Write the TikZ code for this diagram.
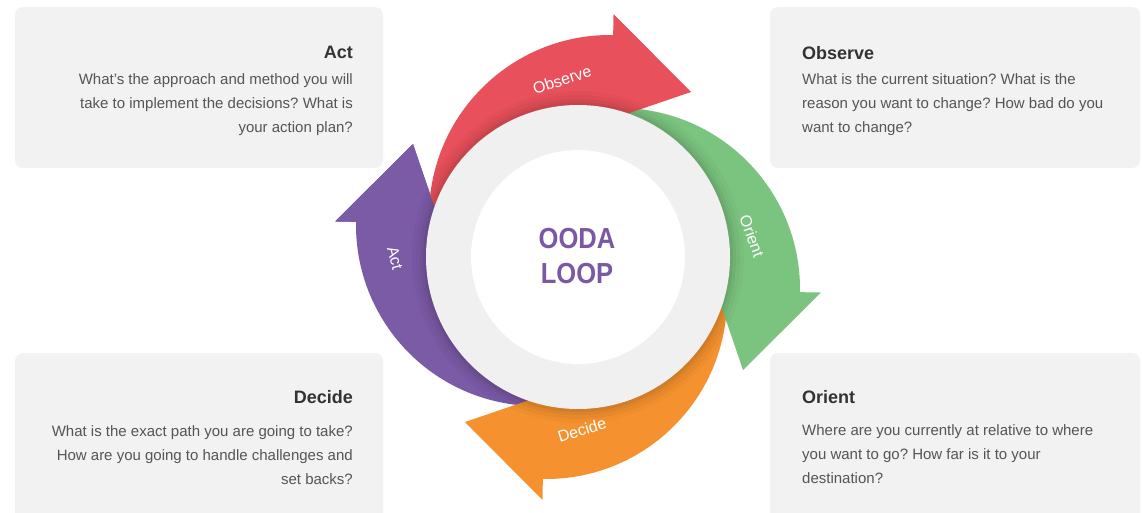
\documentclass[tikz,border=0pt]{standalone}
\usepackage{fontspec}
\setmainfont{Liberation Sans}
\newfontfamily\oodafont[FakeStretch=0.88]{Liberation Sans}
\frenchspacing
\definecolor{redA}{HTML}{E8505B}
\definecolor{greenA}{HTML}{7BC47F}
\definecolor{orangeA}{HTML}{F5922F}
\definecolor{purpleA}{HTML}{7B5AA6}
\definecolor{ringC}{HTML}{F0F0F0}
\definecolor{boxC}{HTML}{F2F2F2}
\definecolor{titleC}{HTML}{333333}
\definecolor{bodyC}{HTML}{555555}
\definecolor{oodaC}{HTML}{7A58A3}
\tikzset{
  infobox/.style={fill=boxC, rounded corners=8pt},
  titletext/.style={inner sep=0pt, text=titleC, font=\fontsize{18}{22}\selectfont\bfseries},
  bodytext/.style={inner sep=0pt, text=bodyC, font=\fontsize{15}{18}\selectfont},
  arrowlabel/.style={inner sep=0pt, text=white, font=\fontsize{16}{18}\selectfont},
  oodatext/.style={inner sep=0pt, text=oodaC, font=\fontsize{29}{32}\oodafont\bfseries},
}
\begin{document}
\begin{tikzpicture}[x=1pt,y=-1pt]
\useasboundingbox (0,0) rectangle (1142,513);
\clip (0,0) rectangle (1142,513);
\fill[white] (0,0) rectangle (1142,513);

% info boxes
\path[infobox] (15,7) rectangle (383,168);
\path[infobox] (770,7) rectangle (1140,168);
\path[infobox] (15,353) rectangle (383,530);
\path[infobox] (770,353) rectangle (1140,530);

% Act box text
\node[titletext, anchor=base east] (actT) at (353,59) {Act};
\node[bodytext, anchor=base east] (actB1) at (353,85) {What’s the approach and method you will};
\node[bodytext, anchor=base east] (actB2) at (353,109) {take to implement the decisions? What is};
\node[bodytext, anchor=base east] (actB3) at (353,133) {your action plan?};

% Observe box text
\node[titletext, anchor=base west] (obsT) at (802,60) {Observe};
\node[bodytext, anchor=base west] (obsB1) at (802,85) {What is the current situation? What is the};
\node[bodytext, anchor=base west] (obsB2) at (802,109) {reason you want to change? How bad do you};
\node[bodytext, anchor=base west] (obsB3) at (802,133) {want to change?};

% Decide box text
\node[titletext, anchor=base east] (decT) at (353,403) {Decide};
\node[bodytext, anchor=base east] (decB1) at (353,436) {What is the exact path you are going to take?};
\node[bodytext, anchor=base east] (decB2) at (353,460) {How are you going to handle challenges and};
\node[bodytext, anchor=base east] (decB3) at (353,484) {set backs?};

% Orient box text
\node[titletext, anchor=base west] (oriT) at (802,403) {Orient};
\node[bodytext, anchor=base west] (oriB1) at (802,435) {Where are you currently at relative to where};
\node[bodytext, anchor=base west] (oriB2) at (802,459) {you want to go? How far is it to your};
\node[bodytext, anchor=base west] (oriB3) at (802,483) {destination?};

% cycle arrows (local coordinates: y up, origin at the loop centre)
\begin{scope}[shift={(578,257)}, yscale=-1]
  \foreach \ang/\col in {270/purpleA,180/orangeA,90/greenA,0/redA}{
    \fill[\col, rotate=\ang]
      ([shift={(32,41)}]178:181) arc[start angle=178, end angle=89, radius=181]
      -- ([shift={(32,41)}]89:202) -- (113,165) -- ([shift={(32,41)}]89:97)
      -- (60:120) arc[start angle=60, end angle=190, radius=120] -- cycle;
  }
  % purple head lies over the red tail
  \fill[purpleA, rotate=270]
      ([shift={(32,41)}]89:202) -- (113,165) -- ([shift={(32,41)}]89:97) -- cycle;
  % soft shadow of the ring
  \foreach \r/\o in {166/0.025,162/0.03,158/0.04,155/0.05}{
    \fill[black, opacity=\o] (0,0) circle[radius=\r];
  }
  \fill[ringC] (0,0) circle[radius=152];
  \fill[white] (0,0) circle[radius=107];
\end{scope}

% arrow labels
\node[arrowlabel, rotate=18] (lobs) at (562,80) {Observe};
\node[arrowlabel, rotate=-70] (lori) at (752,236) {Orient};
\node[arrowlabel, rotate=17] (ldec) at (582,430) {Decide};
\node[arrowlabel, rotate=-75] (lact) at (395,258) {Act};

% centre text
\node[oodatext, anchor=base] (ooda) at (577,248) {OODA};
\node[oodatext, anchor=base] (loop) at (577,283) {LOOP};
\end{tikzpicture}
\end{document}
